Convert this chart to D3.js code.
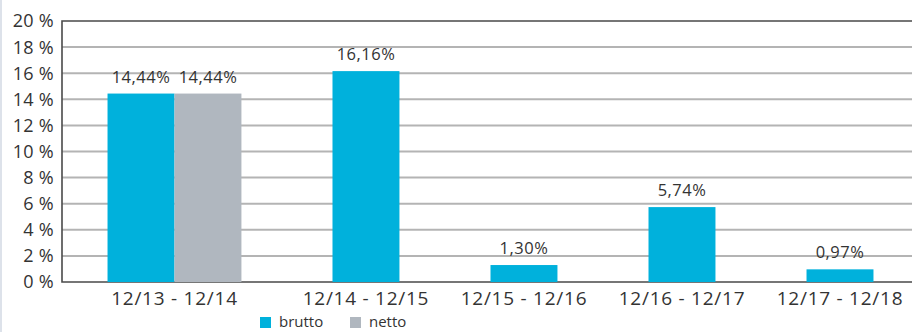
<!DOCTYPE html>
<html>
<head>
<meta charset="utf-8">
<script src="https://cdn.jsdelivr.net/npm/d3@7"></script>
<style>
  html, body { margin: 0; padding: 0; background: #fff; }
  svg { display: block; font-family: "Open Sans", sans-serif; }
</style>
</head>
<body>
<svg id="chart" width="912" height="332"></svg>
<script>
// Rendite je Zeitraum (brutto / netto), in Prozent
const categories = ["12/13 - 12/14", "12/14 - 12/15", "12/15 - 12/16", "12/16 - 12/17", "12/17 - 12/18"];
const seriesNames = ["brutto", "netto"];
const brutto = [14.44, 16.16, 1.30, 5.74, 0.97];
const netto  = [14.44, null, null, null, null];
const yTicks = [0, 2, 4, 6, 8, 10, 12, 14, 16, 18, 20];

const colors = { brutto: "#00b1dc", netto: "#b0b7bf" };
const textColor = "#333";

const svg = d3.select("#chart");
const margin = { left: 62, top: 21, right: -7, bottom: 50 };
const W = 912, H = 332;
const plotRight = W - margin.right;
const plotBottom = H - margin.bottom;

// Each group holds only the series that have a value; groups are laid out
// bar by bar with a constant gap between neighbouring groups.
const groups = categories.map((c, i) => {
  const vals = seriesNames
    .map((s, k) => ({ series: s, value: (k === 0 ? brutto : netto)[i] }))
    .filter(d => d.value != null);
  return { category: c, values: vals };
});
const gapUnits = 1.36; // gap between groups, in bar widths
let cursor = gapUnits / 2;
groups.forEach(g => {
  g.start = cursor;
  g.values.forEach((v, k) => { v.slot = cursor + k; });
  cursor += g.values.length;
  g.end = cursor;
  cursor += gapUnits;
});
const totalUnits = cursor - gapUnits / 2;

const x = d3.scaleLinear().domain([0, totalUnits]).range([margin.left, plotRight]);
const y = d3.scaleLinear().domain([0, 20]).range([plotBottom, margin.top]);

// horizontal gridlines
svg.append("g")
  .selectAll("line")
  .data(yTicks.filter(t => t > 0 && t < 20))
  .join("line")
  .attr("x1", margin.left).attr("x2", plotRight)
  .attr("y1", d => y(d)).attr("y2", d => y(d))
  .attr("stroke", "#b4b4b4").attr("stroke-width", 2);

// frame: top, left, bottom
svg.append("path")
  .attr("d", `M${plotRight},${y(20)}H${margin.left}V${y(0)}H${plotRight}`)
  .attr("fill", "none").attr("stroke", "#4a4a4a").attr("stroke-width", 1.6);

// y tick labels
svg.append("g")
  .selectAll("text")
  .data(yTicks)
  .join("text")
  .attr("x", margin.left - 8)
  .attr("y", d => y(d))
  .attr("dy", "0.36em")
  .attr("text-anchor", "end")
  .attr("font-size", 18)
  .attr("letter-spacing", 0.3)
  .attr("fill", textColor)
  .text(d => d + " %");

// bars
const bars = groups.flatMap(g => g.values.map(v => ({ ...v, category: g.category })));
svg.append("g")
  .selectAll("rect")
  .data(bars)
  .join("rect")
  .attr("x", d => x(d.slot))
  .attr("width", d => x(d.slot + 1) - x(d.slot))
  .attr("y", d => y(d.value))
  .attr("height", d => y(0) - y(d.value))
  .attr("fill", d => colors[d.series]);

// value labels
svg.append("g")
  .selectAll("text")
  .data(bars)
  .join("text")
  .attr("x", d => x(d.slot + 0.5))
  .attr("y", d => y(d.value) - 11)
  .attr("text-anchor", "middle")
  .attr("font-size", 16.5)
  .attr("letter-spacing", 0.5)
  .attr("fill", textColor)
  .text(d => d.value.toFixed(2).replace(".", ",") + "%");

// category labels
svg.append("g")
  .selectAll("text")
  .data(groups)
  .join("text")
  .attr("x", d => x((d.start + d.end) / 2))
  .attr("y", plotBottom + 23)
  .attr("text-anchor", "middle")
  .attr("font-size", 19)
  .attr("letter-spacing", 0.75)
  .attr("fill", textColor)
  .text(d => d.category);

// legend
const legend = svg.append("g").attr("transform", "translate(260,317)");
const items = legend.selectAll("g")
  .data(seriesNames)
  .join("g")
  .attr("transform", (d, i) => `translate(${i * 90},0)`);
items.append("rect").attr("width", 11).attr("height", 11).attr("fill", d => colors[d]);
items.append("text")
  .attr("x", 19).attr("y", 10)
  .attr("font-size", 15)
  .attr("fill", textColor)
  .text(d => d);

// thin light rule at the left edge
svg.append("rect").attr("x", 0).attr("y", 0).attr("width", 2).attr("height", H).attr("fill", "#dde2ea");
</script>
</body>
</html>
